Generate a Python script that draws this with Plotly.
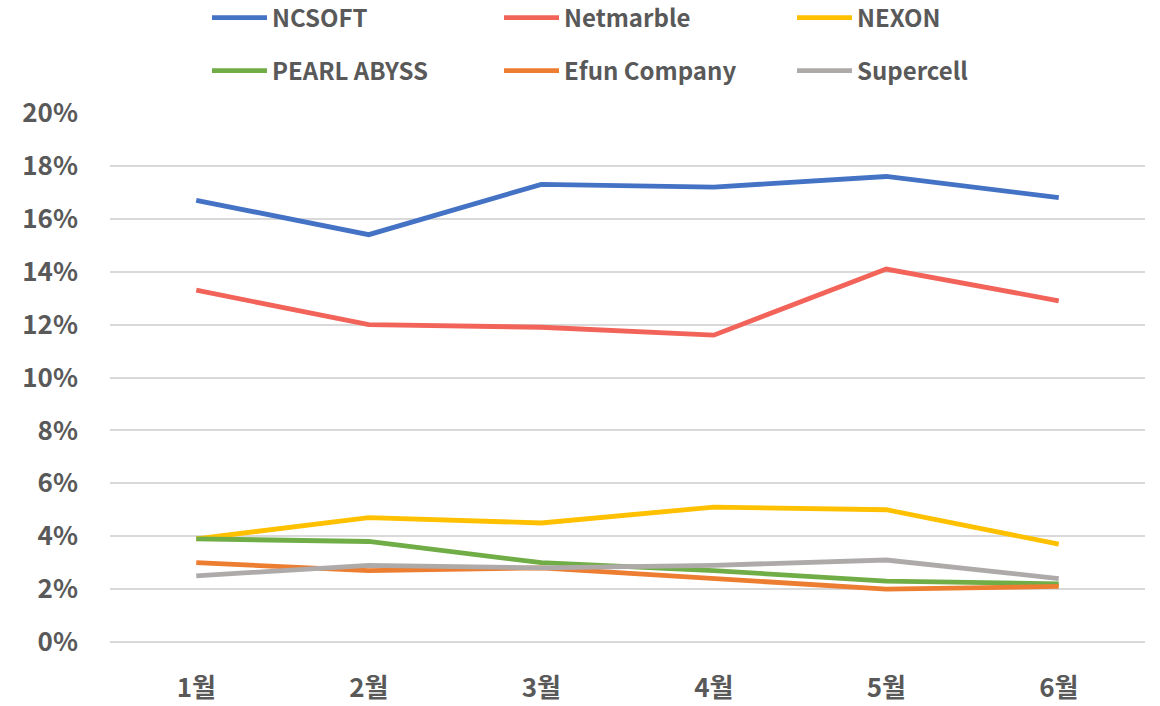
import plotly.graph_objects as go

months = ["1월", "2월", "3월", "4월", "5월", "6월"]
ncsoft = [16.7, 15.4, 17.3, 17.2, 17.6, 16.8]
netmarble = [13.3, 12.0, 11.9, 11.6, 14.1, 12.9]
nexon = [3.9, 4.7, 4.5, 5.1, 5.0, 3.7]
pearl = [3.9, 3.8, 3.0, 2.7, 2.3, 2.2]
efun = [3.0, 2.7, 2.8, 2.4, 2.0, 2.1]
supercell = [2.5, 2.9, 2.8, 2.9, 3.1, 2.4]

series = [
    ("NCSOFT", ncsoft, "#4472C4"),
    ("Netmarble", netmarble, "#F2645A"),
    ("NEXON", nexon, "#FFC000"),
    ("PEARL ABYSS", pearl, "#70AD47"),
    ("Efun Company", efun, "#ED7D31"),
    ("Supercell", supercell, "#AEAAAA"),
]

FONT = "Noto Sans CJK KR"
TXT = "#595959"
L, R, T, B = 110, 15, 113, 64
W, H = 1160, 706
PW = W - L - R

# legend text x positions and row centers (px)
text_x = [273, 565, 858]
row_y = [18, 71]

fig = go.Figure()
layout_legends = {}
for i, (name, vals, color) in enumerate(series):
    lg = "legend" if i == 0 else f"legend{i + 1}"
    fig.add_trace(go.Scatter(
        x=months, y=[v / 100 for v in vals], name=name, mode="lines",
        line=dict(color=color, width=4.8), legend=lg,
    ))
    col, row = i % 3, i // 3
    lx = (text_x[col] - 66 - L) / PW
    layout_legends[lg] = dict(
        orientation="h", xref="paper", yref="container",
        x=lx, y=1 - row_y[row] / H, xanchor="left", yanchor="middle",
        font=dict(family=FONT, size=24, color=TXT, weight="bold"),
        itemwidth=55, bgcolor="rgba(0,0,0,0)",
    )

fig.update_layout(
    width=W, height=H,
    margin=dict(l=L, r=R, t=T, b=B, autoexpand=False),
    paper_bgcolor="white", plot_bgcolor="white",
    showlegend=True,
    **layout_legends,
    xaxis=dict(
        range=[-0.5, 5.5], showgrid=False, showline=False, ticks="",
        tickfont=dict(family=FONT, size=26, color=TXT, weight="bold"),
        ticklabelstandoff=28,
    ),
    yaxis=dict(
        range=[0, 0.2], dtick=0.02, tickformat=".0%",
        gridcolor="#D9D9D9", gridwidth=1.5, zeroline=True, zerolinecolor="#D9D9D9", zerolinewidth=1.5,
        showline=False, ticks="",
        tickfont=dict(family=FONT, size=26, color=TXT, weight="bold"),
        ticklabelstandoff=31,
    ),
)
fig.write_html("out.html", config={"displayModeBar": False},
               post_script="document.body.style.margin='0';")
